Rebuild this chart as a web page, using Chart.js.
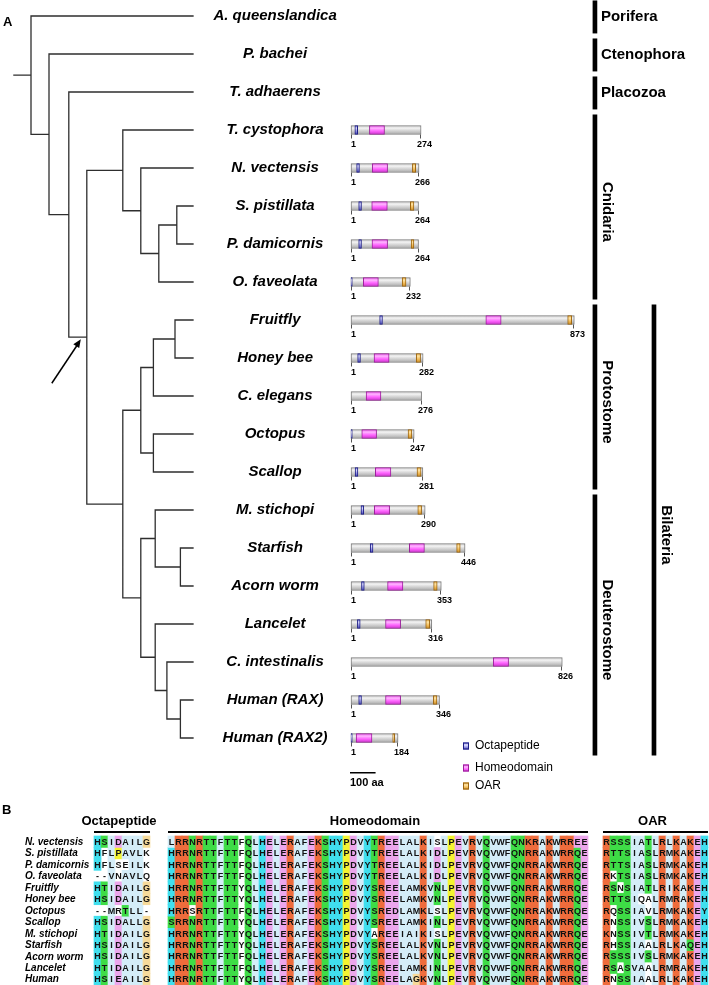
<!DOCTYPE html>
<html><head><meta charset="utf-8">
<script src="https://cdn.jsdelivr.net/npm/chart.js@4/dist/chart.umd.min.js"></script>
<style>
html,body{margin:0;padding:0;background:#fff;}
#wrap{position:relative;width:709px;height:985px;overflow:hidden;background:#fff;}
canvas{position:absolute;left:0;}
#ca{top:0;} #cb{top:800px;}
</style></head><body>
<div id="wrap"><canvas id="ca" width="709" height="800"></canvas><canvas id="cb" width="709" height="185"></canvas></div>
<script>
// ================= DATA =================
const taxa = ['A. queenslandica','P. bachei','T. adhaerens','T. cystophora','N. vectensis','S. pistillata','P. damicornis','O. faveolata','Fruitfly','Honey bee','C. elegans','Octopus','Scallop','M. stichopi','Starfish','Acorn worm','Lancelet','C. intestinalis','Human (RAX)','Human (RAX2)'];
// protein length in aa (null = no protein drawn)
const protLen  = [null,null,null,274,266,264,264,232,873,282,276,247,281,290,446,353,316,826,346,184];
// domain ranges in aa
const octaRange = [null,null,null,[15,26],[22,33],[30,41],[30,41],[0,5],[112,123],[26,37],null,[0,5],[16,27],[39,50],[75,86],[41,52],[25,36],null,[30,41],[0,5]];
const hdRange   = [null,null,null,[72,131],[83,143],[81,142],[82,143],[48,107],[527,587],[90,149],[59,117],[42,100],[95,156],[91,151],[228,287],[143,203],[135,194],[556,616],[135,194],[20,82]];
const oarRange  = [null,null,null,null,[240,253],[232,246],[235,246],[200,215],[847,863],[255,272],null,[223,238],[258,274],[261,276],[413,427],[323,337],[292,308],null,[322,336],[163,171]];
const domainNames = ['Octapeptide','Homeodomain','OAR'];
// tree topology: d = node depth (branch position), c = children (leaf = taxon index)
const tree = {d:0, c:[0, {d:1, c:[1, {d:2.1, c:[2, {d:3.1, mark:true, c:[
  {d:5.1, c:[3, {d:6.1, c:[4, {d:7.1, c:[{d:8.1, c:[5,6]}, 7]}]}]},
  {d:5.1, c:[
    {d:6.1, c:[{d:6.8, c:[{d:8.0, c:[8,9]}, 10]}, {d:6.8, c:[11,12]}]},
    {d:6.1, c:[{d:6.9, c:[13, {d:8.3, c:[14,15]}]}, {d:6.9, c:[16, {d:7.55, c:[17, {d:8.3, c:[18,19]}]}]}]}
  ]}
]}]}]}]};
// clades
const cladeNames = ['Porifera','Ctenophora','Placozoa','Cnidaria','Protostome','Deuterostome','Bilateria'];
const cladeFirst = [0,1,2,3,8,13,8];
const cladeLast  = [0,1,2,7,12,19,19];
const cladeLevel = [0,0,0,0,0,0,1];
const scaleBarAA = 100;

// alignment (panel B)
const alnTaxa = ['N. vectensis','S. pistillata','P. damicornis','O. faveolata','Fruitfly','Honey bee','Octopus','Scallop','M. stichopi','Starfish','Acorn worm','Lancelet','Human'];
const octaSeq = ['HSIDAILG','HFLPAVLK','HFLSEILK','--VNAVLQ','HTIDAILG','HSIDAILG','--MRTLL-','HSIDALLG','HTIDAILG','HSIDAILG','HSIDAILG','HTIDAILG','HSIEAILG'];
const hdSeq = [
 'LRRNRTTFTTFQLHELERAFEKSHYPDVYTREELALKISLPEVRVQVWFQNKRAKWRREE',
 'HRRNRTTFTTFQLHELERAFEKSHYPDVYTREELALKIDLPEVRVQVWFQNRRAKWRRQE',
 'HRRNRTTFTTFQLHELERAFEKSHYPDVYTREELALKIDLPEVRVQVWFQNRRAKWRRQE',
 'HRRNRTTFTTFQLHELERAFEKSHYPDVYTREELALKIDLPEVRVQVWFQNRRAKWRRQE',
 'HRRNRTTFTTYQLHELERAFEKSHYPDVYSREELAMKVNLPEVRVQVWFQNRRAKWRRQE',
 'HRRNRTTFTTYQLHELERAFEKSHYPDVYSREELAMKVNLPEVRVQVWFQNRRAKWRRQE',
 'HRRSRTTFTTFQLHELERAFEKSHYPDVYSREDLAMKLSLPEVRVQVWFQNRRAKWRRQE',
 'SRRNRTTFTTYQLHELERAFEKSHYPDVYSREELAMKINLPEVRVQVWFQNRRAKWRRQE',
 'HRRNRTTFTTYQLHELERAFEKSHYPDVYAREEIAIKISLPEVRVQVWFQNRRAKWRRQE',
 'HRRNRTTFTTYQLHELERAFEKSHYPDVYSREELALKVNLPEVRVQVWFQNRRAKWRRQE',
 'HRRNRTTFTTFQLHELERAFEKSHYPDVYSREELALKVNLPEVRVQVWFQNRRAKWRRQE',
 'HRRNRTTFTTFQLHELERAFEKSHYPDVYSREELAMKINLPEVRVQVWFQNRRAKWRRQE',
 'HRRNRTTFTTYQLHELERAFEKSHYPDVYSREELAGKVNLPEVRVQVWFQNRRAKWRRQE'];
const oarSeq = ['RSSSIATLRLKAKEH','RTTSIASLRMKAKEH','RTTSIASLRMKAKEH','RKTSIASLRMKAKEH','RSNSIATLRIKAKEH','RTTSIQALRMRAKEH','RQSSIAVLRMKAKEY','RNSSIVSLRMKAKEH','KNSSIVTLRMKAKEH','RHSSIAALRLKAQEH','RSSSIVSLRMKAKEH','RSASVAALRMRAKEH','RNSSIAALRLKAKEH'];
const blockNames = ['Octapeptide','Homeodomain','OAR'];

// ================= STYLE / LAYOUT =================
const FONT = '"Liberation Sans", Arial, Helvetica, sans-serif';
const LEAF_DEPTH = 9.0, ROOT_STUB = -0.95, LABEL_DEPTH = 13.56;
const CLADE_DEPTH = [31.33, 34.61];
const BAR_H = 9;
const BLOCK_START = [13.43, 24, 86.14];
const DOMAIN_STYLE = [
  {stops:['#5a5ac8','#e4e4ff','#9a9ae8','#4646b0'], border:'#1c1c86'},
  {stops:['#e040e0','#ffb8ff','#ff66ff','#cc30cc'], border:'#9a1f9a'},
  {stops:['#e0a030','#ffe6a8','#f5c060','#c88a20'], border:'#9a6410'}];
const GRAY_STYLE = {stops:['#bcbcbc','#f4f4f4','#d2d2d2','#a6a6a6'], border:'#7c7c7c'};
const CLU = {blue:'#d4edf8', green:'#3edc46', red:'#ef6c3c', magenta:'#eca6ec', cyan:'#40dfee', yellow:'#f4f430', orange:'#f6da9a', pink:'#f2a0a0'};

// ================= PANEL A =================
function layoutTree(root){
  const segs=[]; let mark=null;
  function rec(n){
    if(typeof n==='number') return {x:LEAF_DEPTH,y:n};
    const ch=n.c.map(rec);
    const y=(ch[0].y+ch[ch.length-1].y)/2;
    segs.push([[n.d,ch[0].y],[n.d,ch[ch.length-1].y]]);
    ch.forEach(c=>segs.push([[n.d,c.y],[c.x,c.y]]));
    if(n.mark) mark={x:n.d,y:y};
    return {x:n.d,y:y};
  }
  const r=rec(root);
  segs.push([[ROOT_STUB,r.y],[r.x,r.y]]);
  const pts=[];
  segs.forEach(s=>{pts.push({x:s[0][0],y:s[0][1]},{x:s[1][0],y:s[1][1]},{x:null,y:null});});
  return {pts:pts, mark:mark};
}
const treeL = layoutTree(tree);

function vGrad(style){
  return function(c){
    const chart=c.chart;
    if(!chart.chartArea || !c.raw) return style.stops[2];
    const yc=chart.scales.y.getPixelForValue(c.raw.y);
    const g=chart.ctx.createLinearGradient(0,yc-BAR_H/2,0,yc+BAR_H/2);
    g.addColorStop(0,style.stops[0]); g.addColorStop(0.28,style.stops[1]);
    g.addColorStop(0.6,style.stops[2]); g.addColorStop(1,style.stops[3]);
    return g;
  };
}
function rowsWith(arr){ const out=[]; arr.forEach((v,i)=>{ if(v!=null) out.push({x:v,y:i}); }); return out; }
function barDS(label,data,style,order){
  return {type:'bar', label:label, indexAxis:'y', xAxisID:'xAA', yAxisID:'y', data:data,
    backgroundColor:vGrad(style), borderColor:style.border, borderWidth:1, borderSkipped:false,
    barThickness:BAR_H, grouped:false, order:order};
}
const backbone = rowsWith(protLen.map(l=>l==null?null:[0,l]));
const dsA = [
  {type:'line', label:'tree', data:treeL.pts, xAxisID:'x', yAxisID:'y', borderColor:'#2e2e2e', borderWidth:1.3,
   pointRadius:0, spanGaps:false, tension:0, fill:false, borderCapStyle:'square', order:0},
  {type:'bar', label:'clades', indexAxis:'x', xAxisID:'x', yAxisID:'y',
   data:cladeNames.map((n,k)=>({x:CLADE_DEPTH[cladeLevel[k]], y:[cladeFirst[k]-0.4, cladeLast[k]+0.45]})),
   backgroundColor:'#000', borderWidth:0, barThickness:4, grouped:false, order:0},
  barDS(domainNames[0], rowsWith(octaRange), DOMAIN_STYLE[0], 1),
  barDS(domainNames[1], rowsWith(hdRange), DOMAIN_STYLE[1], 1),
  barDS(domainNames[2], rowsWith(oarRange), DOMAIN_STYLE[2], 1),
  barDS('protein', backbone, GRAY_STYLE, 5)
];

const panelA = {
  id:'panelA',
  afterDatasetsDraw(chart){
    const {ctx, scales:{x, xAA, y}} = chart;
    ctx.save();
    ctx.fillStyle='#000'; ctx.textBaseline='middle';
    ctx.font='bold 13px '+FONT; ctx.textAlign='left'; ctx.fillText('A',3,22);
    // taxa labels
    ctx.font='italic bold 15px '+FONT; ctx.textAlign='center';
    taxa.forEach((t,i)=>ctx.fillText(t, x.getPixelForValue(LABEL_DEPTH), y.getPixelForValue(i)));
    // protein end ticks and numbers
    ctx.strokeStyle='#555'; ctx.lineWidth=1;
    ctx.font='bold 9px '+FONT;
    protLen.forEach((L,i)=>{
      if(L==null) return;
      const yc=y.getPixelForValue(i), x0=Math.round(xAA.getPixelForValue(0))+0.5, x1=Math.round(xAA.getPixelForValue(L))-0.5;
      ctx.beginPath(); ctx.moveTo(x0,yc+BAR_H/2); ctx.lineTo(x0,yc+BAR_H/2+4);
      ctx.moveTo(x1,yc+BAR_H/2); ctx.lineTo(x1,yc+BAR_H/2+4); ctx.stroke();
      ctx.textAlign='left'; ctx.fillText('1', x0-0.5, yc+14.5);
      ctx.textAlign='center'; ctx.fillText(String(L), x1+4, yc+14.5);
    });
    // clade labels
    const cm=chart.getDatasetMeta(1);
    cladeNames.forEach((n,k)=>{
      const el=cm.data[k]; const top=Math.min(el.y,el.base), bot=Math.max(el.y,el.base);
      ctx.font='bold 15px '+FONT;
      if(cladeFirst[k]===cladeLast[k]){
        ctx.textAlign='left'; ctx.fillText(n, el.x+6, (top+bot)/2);
      } else {
        ctx.save(); ctx.translate(el.x+12,(top+bot)/2+5); ctx.rotate(Math.PI/2);
        ctx.textAlign='center'; ctx.fillText(n,0,0); ctx.restore();
      }
    });
    // arrow to the marked node
    const mx=x.getPixelForValue(treeL.mark.x)-6, my=y.getPixelForValue(treeL.mark.y)+2;
    const tx=mx-29, ty=my+44;
    ctx.strokeStyle='#000'; ctx.lineWidth=1.5;
    ctx.beginPath(); ctx.moveTo(tx,ty); ctx.lineTo(mx-3,my+5); ctx.stroke();
    const ang=Math.atan2(my-ty,mx-tx);
    ctx.fillStyle='#000'; ctx.beginPath(); ctx.moveTo(mx,my);
    ctx.lineTo(mx-9*Math.cos(ang-0.4), my-9*Math.sin(ang-0.4));
    ctx.lineTo(mx-9*Math.cos(ang+0.4), my-9*Math.sin(ang+0.4)); ctx.closePath(); ctx.fill();
    // legend
    const lx=463, ly=[746,768,786];
    domainNames.forEach((n,k)=>{
      const st=DOMAIN_STYLE[k];
      const g=ctx.createLinearGradient(0,ly[k]-3.5,0,ly[k]+3.5);
      g.addColorStop(0,st.stops[0]); g.addColorStop(0.35,st.stops[1]); g.addColorStop(0.65,st.stops[2]); g.addColorStop(1,st.stops[3]);
      ctx.fillStyle=g; ctx.fillRect(lx,ly[k]-3.5,6,7);
      ctx.strokeStyle=st.border; ctx.lineWidth=1; ctx.strokeRect(lx+0.5,ly[k]-3,5,6);
      ctx.fillStyle='#000'; ctx.font='12px '+FONT; ctx.textAlign='left'; ctx.fillText(n, lx+12, ly[k]);
    });
    // scale bar
    const sx0=xAA.getPixelForValue(0)-1, sx1=xAA.getPixelForValue(scaleBarAA)-1;
    ctx.fillStyle='#000'; ctx.fillRect(sx0,772,sx1-sx0,1.5);
    ctx.font='bold 11px '+FONT; ctx.textAlign='left'; ctx.fillText(scaleBarAA+' aa', sx0, 782.5);
    ctx.restore();
  }
};

new Chart(document.getElementById('ca'), {
  type:'bar',
  data:{datasets:dsA},
  options:{
    responsive:false, animation:false, devicePixelRatio:1, events:[],
    layout:{padding:0},
    plugins:{legend:{display:false}, tooltip:{enabled:false}},
    scales:{
      x:{type:'linear', display:false, offset:false, min:-31/18, max:(709-31)/18},
      xAA:{type:'linear', axis:'x', display:false, offset:false, min:-351/0.2558, max:(709-351)/0.2558},
      y:{type:'linear', display:false, offset:false, reverse:true, min:-16/38, max:(800-16)/38}
    }
  },
  plugins:[panelA]
});

// ================= PANEL B =================
function clustal(seqs){
  const n=seqs.length, L=seqs[0].length, out=seqs.map(()=>[]);
  const HYD='%#ACFHILMVWYPp';
  for(let c=0;c<L;c++){
    const col=seqs.map(s=>s[c]);
    const pct=set=>col.filter(a=>set.indexOf(a)>=0).length/n*100;
    const K={'%':pct('WLVIMAFCHP')>=60,'#':pct('WLVIMAFCHP')>=80,'-':pct('ED')>=50,'+':pct('KR')>=60,
      g:pct('G')>=50,n:pct('N')>=50,q:pct('QE')>=50,p:pct('P')>=50,t:pct('TS')>=50};
    'ACDEFGHIKLMNPQRSTVWY'.split('').forEach(a=>{K[a]=pct(a)>=85;});
    const any=s=>s.split('').some(k=>K[k]);
    col.forEach((a,r)=>{
      let cl=null;
      switch(a){
        case 'G': cl='orange'; break;
        case 'P': cl='yellow'; break;
        case 'T': if(any('tST%#')) cl='green'; break;
        case 'S': if(any('tST#')) cl='green'; break;
        case 'N': if(any('nND')) cl='green'; break;
        case 'Q': if(any('qQE+KR')) cl='green'; break;
        case 'W': case 'L': case 'V': case 'I': case 'M': case 'F': case 'A': if(any(HYD)) cl='blue'; break;
        case 'C': if(any('C')) cl='pink'; else if(any('%#AFHILMVWYSPp')) cl='blue'; break;
        case 'H': case 'Y': if(any(HYD)) cl='cyan'; break;
        case 'E': if(any('+KR')) cl='red'; else if(any('-DEqQ')) cl='magenta'; break;
        case 'D': if(any('+KR')) cl='red'; else if(any('-DEnN')) cl='magenta'; break;
        case 'K': case 'R': if(any('+KRQ')) cl='red'; break;
      }
      out[r][c]=cl;
    });
  }
  return out;
}
const blocks=[octaSeq,hdSeq,oarSeq];
const blockColors=blocks.map(clustal);
const colPos=[];
blocks.forEach((b,k)=>{ for(let j=0;j<b[0].length;j++) colPos.push(BLOCK_START[k]+j+0.5); });
const residues=alnTaxa.map((t,r)=>blocks.map(b=>b[r]).join(''));
const cellColors=alnTaxa.map((t,r)=>{ const a=[]; blockColors.forEach(bc=>bc[r].forEach(c=>a.push(c?CLU[c]:'rgba(255,255,255,0)'))); return a; });
const dsB=alnTaxa.map((t,r)=>({
  type:'bar', label:t, data:colPos.map(cx=>({x:cx, y:[r-0.5,r+0.5]})),
  backgroundColor:cellColors[r], borderWidth:0, grouped:false, barPercentage:1, categoryPercentage:1
}));
const panelB={
  id:'panelB',
  afterDatasetsDraw(chart){
    const {ctx, scales:{x,y}}=chart;
    ctx.save(); ctx.textBaseline='middle'; ctx.fillStyle='#000';
    ctx.font='bold 13px '+FONT; ctx.textAlign='left'; ctx.fillText('B',2,10);
    blocks.forEach((b,k)=>{
      const x0=x.getPixelForValue(BLOCK_START[k]), x1=x.getPixelForValue(BLOCK_START[k]+b[0].length);
      ctx.fillRect(x0,31,x1-x0,2);
      ctx.font='bold 13px '+FONT; ctx.textAlign='center'; ctx.fillText(blockNames[k],(x0+x1)/2-3,21);
    });
    ctx.font='italic bold 10px '+FONT; ctx.textAlign='left';
    alnTaxa.forEach((t,r)=>ctx.fillText(t,25,y.getPixelForValue(r)+0.5));
    ctx.font='bold 9px '+FONT; ctx.textAlign='center'; ctx.fillStyle='#111';
    dsB.forEach((ds,r)=>{
      const meta=chart.getDatasetMeta(r);
      meta.data.forEach((el,j)=>{ ctx.fillText(residues[r][j], el.x, (el.y+el.base)/2+0.7); });
    });
    ctx.restore();
  }
};
new Chart(document.getElementById('cb'), {
  type:'bar',
  data:{datasets:dsB},
  options:{
    responsive:false, animation:false, devicePixelRatio:1, events:[],
    layout:{padding:0},
    plugins:{legend:{display:false}, tooltip:{enabled:false}},
    scales:{
      x:{type:'linear', display:false, offset:false, min:0, max:709/7},
      y:{type:'linear', display:false, offset:false, reverse:true, min:-41.7/11.46, max:-41.7/11.46+185/11.46}
    }
  },
  plugins:[panelB]
});
</script>
</body></html>
